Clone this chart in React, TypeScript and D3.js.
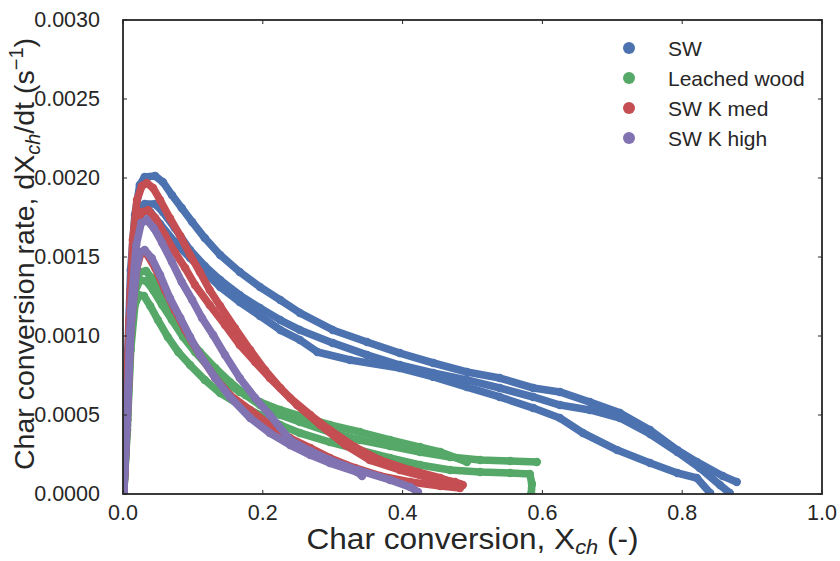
import React from "react";
import * as d3 from "d3";

// Char conversion X (-) vs conversion rate dX/dt (1/s), several runs per fuel
type Pt = [number, number];

const seriesNames = ["SW", "Leached wood", "SW K med", "SW K high"];
const seriesColors = ["#4C72B0", "#55A868", "#C44E52", "#8172B2"];

const xTicks = [0, 0.2, 0.4, 0.6, 0.8, 1.0];
const yTicks = [0, 0.0005, 0.001, 0.0015, 0.002, 0.0025, 0.003];

const swRunA: Pt[] = [
  [0.001, 0], [0.004, 0.000405], [0.007, 0.000911], [0.011, 0.001418], [0.017, 0.001766],
  [0.024, 0.001956], [0.031, 0.002006], [0.046, 0.002013], [0.057, 0.001975], [0.070, 0.001892],
  [0.084, 0.00181], [0.099, 0.001722], [0.117, 0.00162], [0.139, 0.001513], [0.167, 0.001405],
  [0.196, 0.00131], [0.225, 0.001228], [0.253, 0.001146], [0.300, 0.001038], [0.349, 0.000962],
  [0.396, 0.000892], [0.444, 0.000829], [0.492, 0.000772], [0.539, 0.000734], [0.587, 0.000671],
  [0.625, 0.000646], [0.668, 0.000582], [0.711, 0.000513], [0.754, 0.000405], [0.793, 0.000278],
  [0.821, 0.000203], [0.858, 0.000114], [0.878, 0.000076],
];
const swRunB: Pt[] = [
  [0.001, 0], [0.006, 0.000595], [0.010, 0.001165], [0.016, 0.001608], [0.023, 0.001797],
  [0.031, 0.001835], [0.046, 0.001835], [0.057, 0.001785], [0.074, 0.001684], [0.096, 0.001544],
  [0.117, 0.001443], [0.139, 0.001354], [0.167, 0.001259], [0.196, 0.001177], [0.225, 0.001101],
  [0.253, 0.001038], [0.300, 0.000956], [0.349, 0.00088], [0.396, 0.000816], [0.444, 0.000766],
  [0.492, 0.000722], [0.539, 0.000671], [0.587, 0.000614], [0.625, 0.000563], [0.668, 0.000532],
  [0.711, 0.000481], [0.754, 0.00038], [0.793, 0.000266], [0.825, 0.000165], [0.854, 0.000057],
  [0.868, 0.000006],
];
const swRunC: Pt[] = [
  [0.001, 0], [0.006, 0.000532], [0.011, 0.001228], [0.019, 0.001658], [0.027, 0.001785],
  [0.039, 0.001785], [0.053, 0.001709], [0.074, 0.001595], [0.096, 0.001494], [0.117, 0.001405],
  [0.139, 0.00131], [0.167, 0.001215], [0.196, 0.001127], [0.225, 0.001038], [0.253, 0.000975],
  [0.278, 0.000899], [0.325, 0.000848], [0.396, 0.000797], [0.444, 0.000741], [0.492, 0.000677],
  [0.539, 0.000614], [0.587, 0.000544], [0.625, 0.000481], [0.658, 0.000386], [0.707, 0.000278],
  [0.754, 0.000196], [0.793, 0.000133], [0.821, 0.000101], [0.840, 0.000006],
];

const leachedRun1: Pt[] = [
  [0.001, 0], [0.006, 0.000468], [0.011, 0.001038], [0.017, 0.001323], [0.024, 0.001405],
  [0.033, 0.001411], [0.041, 0.001367], [0.053, 0.001278], [0.067, 0.001177], [0.082, 0.00107],
  [0.096, 0.000975], [0.110, 0.000899], [0.132, 0.000797], [0.153, 0.000709], [0.175, 0.000627],
  [0.196, 0.000563], [0.225, 0.0005], [0.253, 0.000456], [0.296, 0.000392], [0.339, 0.000342],
  [0.382, 0.000304], [0.425, 0.000266], [0.468, 0.000234], [0.511, 0.000215], [0.554, 0.000209],
  [0.592, 0.000203],
];
const leachedRun2: Pt[] = [
  [0.001, 0], [0.006, 0.000405], [0.011, 0.000911], [0.017, 0.001196], [0.023, 0.001259],
  [0.030, 0.001253], [0.039, 0.00119], [0.050, 0.001101], [0.064, 0.000994], [0.079, 0.000899],
  [0.096, 0.000816], [0.117, 0.000722], [0.139, 0.000639], [0.167, 0.000563], [0.196, 0.0005],
  [0.225, 0.000437], [0.253, 0.000386], [0.296, 0.000329], [0.339, 0.000278], [0.382, 0.000228],
  [0.425, 0.000184], [0.468, 0.000152], [0.511, 0.000139], [0.554, 0.000133], [0.582, 0.000127],
  [0.585, 0.000063], [0.584, 0],
];
const leachedRun3: Pt[] = [
  [0.001, 0], [0.006, 0.000437], [0.011, 0.000975], [0.017, 0.001278], [0.024, 0.001354],
  [0.033, 0.001348], [0.043, 0.001291], [0.056, 0.001196], [0.070, 0.001101], [0.086, 0.000994],
  [0.103, 0.000899], [0.124, 0.000797], [0.146, 0.000709], [0.167, 0.000646], [0.196, 0.000582],
  [0.225, 0.000532], [0.253, 0.000494], [0.296, 0.000437], [0.339, 0.000392], [0.382, 0.000342],
  [0.425, 0.000297], [0.454, 0.000266], [0.492, 0.000203],
];

const kMedRun1: Pt[] = [
  [0.001, 0], [0.004, 0.000468], [0.009, 0.001101], [0.014, 0.001608], [0.020, 0.001861],
  [0.027, 0.001949], [0.034, 0.001968], [0.043, 0.001937], [0.053, 0.001861], [0.067, 0.001747],
  [0.082, 0.001633], [0.096, 0.001513], [0.110, 0.001405], [0.124, 0.001291], [0.139, 0.00119],
  [0.160, 0.001051], [0.182, 0.000911], [0.203, 0.000785], [0.225, 0.000671], [0.249, 0.000563],
  [0.282, 0.000437], [0.318, 0.00031], [0.353, 0.000215], [0.396, 0.000152], [0.439, 0.000101],
  [0.475, 0.000076], [0.486, 0.000057],
];
const kMedRun2: Pt[] = [
  [0.001, 0], [0.006, 0.000595], [0.011, 0.001291], [0.019, 0.001684], [0.027, 0.001785],
  [0.036, 0.001797], [0.046, 0.001747], [0.060, 0.001639], [0.074, 0.001532], [0.089, 0.00143],
  [0.103, 0.001323], [0.124, 0.001196], [0.146, 0.00107], [0.167, 0.000943], [0.189, 0.000835],
  [0.210, 0.000734], [0.239, 0.000608], [0.268, 0.0005], [0.296, 0.000405], [0.332, 0.000297],
  [0.368, 0.000215], [0.411, 0.000152], [0.454, 0.000101], [0.482, 0.000063],
];
const kMedRun3: Pt[] = [
  [0.001, 0], [0.006, 0.000468], [0.011, 0.001038], [0.019, 0.001418], [0.026, 0.001532],
  [0.034, 0.001519], [0.046, 0.00143], [0.060, 0.001291], [0.074, 0.001165], [0.089, 0.001038],
  [0.110, 0.00088], [0.132, 0.000734], [0.153, 0.000627], [0.182, 0.000532], [0.210, 0.000437],
  [0.239, 0.000354], [0.268, 0.000291], [0.296, 0.000228], [0.332, 0.000165], [0.368, 0.000114],
  [0.411, 0.000076], [0.454, 0.000051], [0.482, 0.000038],
];

const kHighRun1: Pt[] = [
  [0.001, 0], [0.006, 0.000532], [0.011, 0.001165], [0.019, 0.001576], [0.026, 0.001715],
  [0.034, 0.001734], [0.044, 0.001684], [0.056, 0.001589], [0.070, 0.001468], [0.084, 0.001342],
  [0.099, 0.001228], [0.113, 0.001114], [0.129, 0.001006], [0.146, 0.00088], [0.167, 0.000734],
  [0.189, 0.000608], [0.210, 0.0005], [0.239, 0.000342], [0.268, 0.000272], [0.296, 0.000215],
  [0.335, 0.000152], [0.382, 0.000089], [0.411, 0.000044], [0.422, 0.000013],
];
const kHighRun2: Pt[] = [
  [0.001, 0], [0.006, 0.000468], [0.011, 0.001038], [0.019, 0.001418], [0.024, 0.001525],
  [0.031, 0.001544], [0.041, 0.001494], [0.053, 0.001386], [0.067, 0.001241], [0.082, 0.001114],
  [0.096, 0.000994], [0.110, 0.00088], [0.132, 0.000734], [0.153, 0.000614], [0.182, 0.000481],
  [0.210, 0.000386], [0.239, 0.00031], [0.268, 0.000247], [0.296, 0.000196], [0.335, 0.000139],
  [0.342, 0.000114],
];

const seriesRuns: Pt[][][] = [
  [swRunA, swRunB, swRunC],
  [leachedRun1, leachedRun2, leachedRun3],
  [kMedRun1, kMedRun2, kMedRun3],
  [kHighRun1, kHighRun2],
];

const W = 840;
const H = 561;
const M = { left: 123, right: 18, top: 20, bottom: 67 };
const INK = "#262626";
const FONT = "'Liberation Sans', Arial, Helvetica, sans-serif";

export default function App() {
  const x = d3.scaleLinear().domain([0, 1]).range([M.left, W - M.right]);
  const y = d3.scaleLinear().domain([0, 0.003]).range([H - M.bottom, M.top]);
  const line = d3
    .line<Pt>()
    .x((d) => x(d[0]))
    .y((d) => y(d[1]));
  const fx = d3.format(".1f");
  const fy = d3.format(".4f");
  const x0 = x(0);
  const x1 = x(1);
  const y0 = y(0);
  const y1 = y(0.003);
  const xMid = (x0 + x1) / 2;

  return (
    <svg
      width={W}
      height={H}
      style={{ position: "absolute", left: 0, top: 0, background: "#fff" }}
      fontFamily={FONT}
    >
      <rect x={0} y={0} width={W} height={H} fill="#fff" />
      <defs>
        <clipPath id="plot-area">
          <rect x={x0} y={y1} width={x1 - x0} height={y0 - y1} />
        </clipPath>
      </defs>

      <g clipPath="url(#plot-area)">
        {seriesRuns.map((runs, si) => (
          <g key={si}>
            {runs.map((run, ri) => (
              <g key={ri}>
                <path
                  d={line(run) ?? ""}
                  fill="none"
                  stroke={seriesColors[si]}
                  strokeWidth={7.6}
                  strokeLinejoin="round"
                  strokeLinecap="round"
                />
                {run.map((p, pi) => (
                  <circle key={pi} cx={x(p[0])} cy={y(p[1])} r={4.2} fill={seriesColors[si]} />
                ))}
              </g>
            ))}
          </g>
        ))}
      </g>

      {/* inward ticks on all four sides */}
      {xTicks.map((t) => (
        <g key={"xt" + t} stroke={INK} strokeWidth={1}>
          <line x1={x(t)} x2={x(t)} y1={y0} y2={y0 - 4} />
          <line x1={x(t)} x2={x(t)} y1={y1} y2={y1 + 4} />
        </g>
      ))}
      {yTicks.map((t) => (
        <g key={"yt" + t} stroke={INK} strokeWidth={1}>
          <line x1={x0} x2={x0 + 4} y1={y(t)} y2={y(t)} />
          <line x1={x1} x2={x1 - 4} y1={y(t)} y2={y(t)} />
        </g>
      ))}

      <rect
        x={x0}
        y={y1}
        width={x1 - x0}
        height={y0 - y1}
        fill="none"
        stroke={INK}
        strokeWidth={1.8}
      />

      {xTicks.map((t) => (
        <text
          key={"xl" + t}
          x={x(t)}
          y={y0 + 19}
          textAnchor="middle"
          dominantBaseline="central"
          fontSize={21.5}
          fill={INK}
        >
          {fx(t)}
        </text>
      ))}
      {yTicks.map((t) => (
        <text
          key={"yl" + t}
          x={x0 - 23}
          y={y(t)}
          textAnchor="end"
          dominantBaseline="central"
          fontSize={21.5}
          fill={INK}
        >
          {fy(t)}
        </text>
      ))}

      <g transform={`translate(${xMid}, ${H - 12}) scale(1.09, 1)`}>
        <text x={0} y={0} textAnchor="middle" fontSize={29} fill={INK}>
          Char conversion, X
          <tspan fontSize={20} fontStyle="italic" dy={5}>
            ch
          </tspan>
          <tspan dy={-5}> (-)</tspan>
        </text>
      </g>

      <text
        transform={`translate(34, ${(y0 + y1) / 2 - 3}) rotate(-90)`}
        textAnchor="middle"
        fontSize={28.5}
        fill={INK}
      >
        Char conversion rate, dX
        <tspan fontSize={20} fontStyle="italic" dy={6}>
          ch
        </tspan>
        <tspan dy={-6}>/dt (s</tspan>
        <tspan fontSize={20} dy={-11}>
          −1
        </tspan>
        <tspan dy={11}>)</tspan>
      </text>

      {seriesNames.map((name, i) => (
        <g key={name} transform={`translate(629, ${48 + i * 30})`}>
          <circle cx={0} cy={0} r={6} fill={seriesColors[i]} />
          <text x={39} y={0} dominantBaseline="central" fontSize={21} fill={INK}>
            {name}
          </text>
        </g>
      ))}
    </svg>
  );
}
